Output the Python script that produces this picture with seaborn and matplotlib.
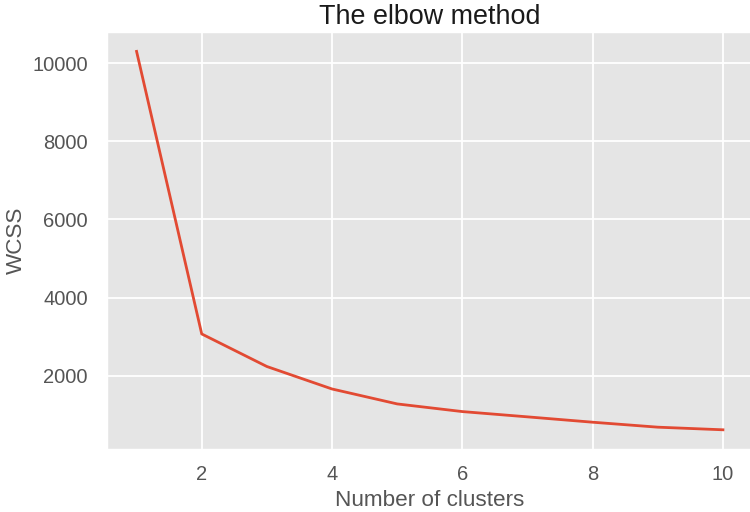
import matplotlib
matplotlib.use("Agg")
import matplotlib.pyplot as plt
import seaborn as sns
import pandas as pd

# elbow curve values
n_clusters = [1, 2, 3, 4, 5, 6, 7, 8, 9, 10]
wcss = [10298, 3070, 2237, 1662, 1280, 1084, 949, 812, 685, 618]

plt.style.use('ggplot')
plt.rcParams['font.family'] = ['Liberation Sans', 'DejaVu Sans']
plt.rcParams['font.size'] = 13.5

df = pd.DataFrame({'clusters': n_clusters, 'wcss': wcss})

fig = plt.figure(figsize=(7.5, 5.12), dpi=100)
ax = fig.add_axes([0.143, 0.1236, 0.86, 0.813])

sns.lineplot(data=df, x='clusters', y='wcss', ax=ax, color='#E24A33', linewidth=2.0)

ax.grid(True, color='white', linewidth=1.3)
ax.tick_params(axis='x', length=0, pad=12, labelsize=14.5)
ax.tick_params(axis='y', length=0, pad=14, labelsize=14.5)
ax.set_xticks([2, 4, 6, 8, 10])
ax.set_yticks([2000, 4000, 6000, 8000, 10000])

ax.set_title('The elbow method', fontsize=19.4, color='#1a1a1a')
ax.set_xlabel('Number of clusters', fontsize=16.2, color='#555555')
ax.set_ylabel('WCSS', fontsize=16.2, color='#555555')

fig.savefig('out.png', dpi=100)
